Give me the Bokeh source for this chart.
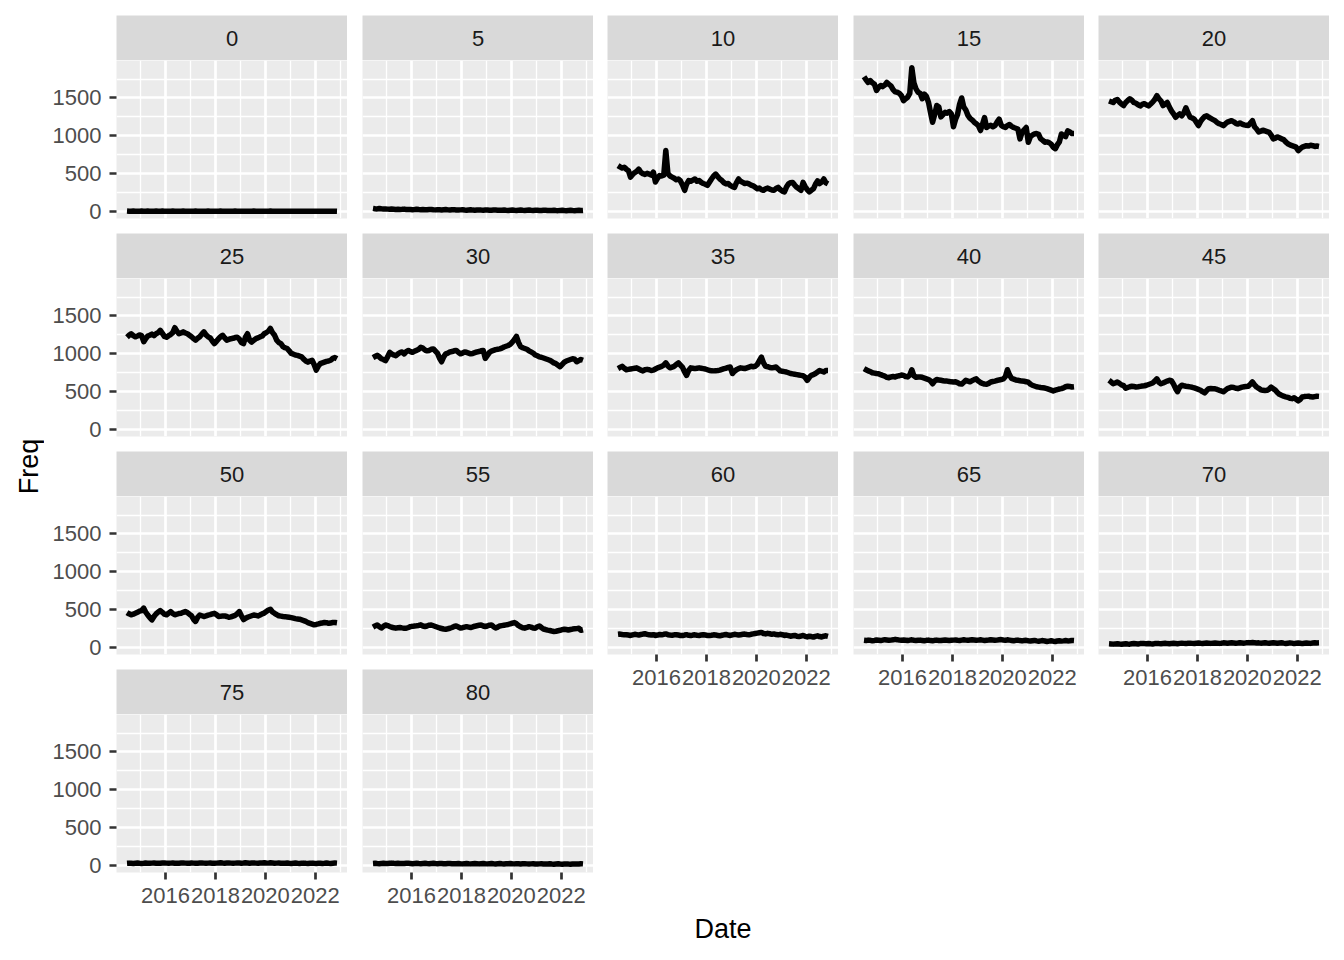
import math
import numpy as np
import pandas as pd
from bokeh.plotting import figure
from bokeh.layouts import row, column
from bokeh.models import Range1d, FixedTicker, DatetimeTickFormatter
from bokeh.core.properties import value
from bokeh.embed import file_html
from bokeh.resources import INLINE

# ---------------- data ----------------
dates = pd.date_range("2014-06-01", periods=102, freq="MS") + pd.Timedelta(days=14)
ages = ["0", "5", "10", "15", "20", "25", "30", "35", "40", "45",
        "50", "55", "60", "65", "70", "75", "80"]

freq_0 = [6,4,5,7,5,3,4,6,5,4, 6,5,3,5,6,4,5,7,5,4, 3,5,6,4,5,3,4,6,5,4,
          5,3,4,6,5,4,3,5,4,6, 5,3,4,5,4,6,5,3,4,5, 3,4,6,5,3,4,5,4,3,5,
          4,6,4,3,5,4,3,5,4,6, 3,4,5,3,4,5,3,4,5,3, 4,3,5,4,3,4,5,3,4,3,
          5,4,3,4,3,5,4,3,4,3, 5,4]
freq_5 = [42,38,35,40,36,33,35,32,30,34, 31,28,30,27,29,32,28,26,28,25,
          27,30,26,24,27,25,23,26,28,24, 22,25,23,21,24,26,22,20,23,25,
          21,19,22,24,20,18,21,23,19,17, 20,22,19,17,19,21,18,16,19,21,
          18,16,18,20,17,15,18,20,17,15, 17,19,16,14,17,19,16,14,16,18,
          15,13,16,18,15,13,15,17,14,12, 15,17,14,12,14,16,13,12,14,16, 13,15]
freq_10 = [607,590,575,585,560,540,455,490,515,530, 560,520,500,490,505,495,480,520,390,440,
           475,470,480,805,500,470,455,440,420,430, 405,350,280,360,410,400,415,430,400,410,
           385,370,360,345,390,430,470,495,460,430, 410,380,365,370,345,330,320,380,430,400,
           385,370,375,365,350,340,320,300,310,290, 280,300,310,295,285,280,305,320,290,270,
           260,320,365,380,385,350,320,300,280,385, 330,290,260,280,300,360,405,370,390,430, 380,365]
freq_15 = [1780,1740,1705,1730,1700,1680,1600,1640,1665,1650, 1670,1705,1680,1660,1610,1580,1575,1560,1530,1465,
           1490,1510,1560,1900,1700,1620,1575,1560,1490,1550, 1520,1440,1300,1180,1280,1400,1380,1250,1280,1310,
           1300,1320,1290,1120,1220,1280,1420,1500,1380,1340, 1270,1230,1210,1180,1160,1135,1070,1150,1240,1110,
           1130,1140,1120,1135,1180,1220,1140,1120,1110,1135, 1150,1125,1110,1100,1090,960,1045,1080,1110,915,
           990,1010,1025,1030,1020,960,940,915,920,910, 890,850,830,880,920,1025,1005,990,1065,1050, 1030,1030]
freq_20 = [1460,1450,1440,1470,1480,1445,1420,1400,1440,1465, 1490,1470,1440,1430,1410,1395,1415,1425,1410,1395,
           1420,1445,1480,1530,1490,1460,1400,1420,1440,1380, 1330,1290,1245,1270,1290,1265,1300,1370,1300,1245,
           1235,1220,1180,1135,1190,1225,1255,1265,1245,1230, 1215,1200,1175,1160,1150,1135,1160,1180,1190,1200,
           1185,1165,1155,1170,1155,1145,1140,1135,1170,1200, 1120,1090,1050,1060,1075,1065,1055,1045,1010,960,
           970,985,975,960,950,920,895,880,870,860, 850,805,830,850,860,870,865,875,870,860, 865,860]
freq_25 = [1220,1245,1265,1240,1225,1235,1250,1240,1160,1200, 1235,1245,1260,1240,1265,1280,1310,1270,1230,1220,
           1240,1255,1280,1345,1300,1265,1275,1290,1275,1265, 1245,1225,1200,1180,1205,1225,1260,1290,1250,1225,
           1210,1170,1135,1165,1200,1225,1245,1210,1180,1190, 1200,1205,1215,1220,1195,1150,1135,1220,1265,1180,
           1155,1180,1200,1210,1225,1235,1265,1280,1300,1335, 1280,1245,1180,1150,1135,1095,1080,1070,1040,1005,
           995,985,980,970,960,930,905,890,905,915, 860,785,840,870,880,890,900,905,915,940, 950,935]
freq_30 = [950,965,980,960,935,925,910,960,1020,1000, 985,975,1000,1015,1025,1000,1030,1045,1030,1020,
           1035,1045,1060,1085,1075,1050,1040,1045,1060,1065, 1035,1005,940,895,960,1000,1010,1025,1030,1040,
           1045,1020,1000,1010,1025,1020,1010,1000,1005,1015, 1025,1030,1040,1045,940,980,1020,1035,1045,1055,
           1060,1065,1075,1090,1100,1110,1125,1155,1190,1230, 1150,1095,1080,1070,1060,1040,1025,1010,985,975,
           960,955,945,935,925,915,900,880,870,850, 830,860,890,905,915,925,935,930,895,910, 925,915]
freq_35 = [805,820,835,810,790,795,800,805,810,815, 800,785,775,790,795,790,780,785,800,815,
           825,835,850,880,840,815,825,835,860,880, 850,820,760,715,780,815,810,805,810,815,
           810,805,800,790,780,778,775,778,780,785, 795,805,810,820,825,740,770,790,805,815,
           810,805,815,825,835,830,835,860,910,955, 880,835,830,820,815,820,825,800,775,770,
           765,760,750,740,735,730,725,720,715,710, 690,650,690,715,725,740,760,780,770,760, 780,780]
freq_40 = [805,790,775,765,750,745,740,738,725,715, 705,690,685,695,700,695,705,710,720,715,
           700,695,720,790,710,690,695,695,690,680, 670,660,640,605,640,660,655,650,645,640,
           640,635,630,628,630,620,605,600,625,650, 640,630,645,660,670,640,620,610,600,598,
           610,628,635,640,648,655,660,668,700,790, 720,675,665,655,650,645,640,638,632,625,
           600,585,575,565,560,555,552,548,540,530, 520,510,520,528,535,540,550,565,572,568, 562,565]
freq_45 = [650,630,605,615,628,610,590,580,545,555, 565,572,568,562,565,570,575,578,585,595,
           605,615,640,670,625,605,615,628,640,650, 645,600,540,500,560,585,578,572,568,563,
           558,550,540,530,518,500,485,515,540,542, 540,538,530,518,510,498,520,540,550,560,
           555,545,540,550,560,565,570,572,600,628, 590,562,545,525,518,515,518,535,560,540,
           520,490,465,452,440,432,425,412,408,420, 400,378,400,430,435,438,440,432,430,435, 440,438]
freq_50 = [462,445,432,440,452,465,480,488,520,470, 430,395,365,410,445,470,488,465,440,432,
           455,475,450,432,440,450,453,465,475,462, 440,420,370,345,400,430,420,410,418,428,
           435,445,452,435,410,412,418,418,410,400, 405,415,425,445,475,420,370,385,400,410,
           420,430,425,418,430,445,455,475,495,505, 470,452,435,420,415,410,408,404,400,395,
           388,382,378,374,365,356,345,330,320,310, 300,305,312,320,325,330,328,320,325,330, 332,328]
freq_55 = [270,285,298,275,258,280,298,290,278,268, 262,256,262,265,260,256,255,265,276,280,
           285,288,292,300,285,278,285,295,298,288, 278,268,258,252,245,242,248,255,265,278,
           286,272,258,262,270,276,270,264,272,282, 288,294,298,285,278,285,295,298,275,258,
           270,285,290,295,300,305,312,322,330,315, 290,275,262,256,265,276,270,258,256,275,
           285,265,245,238,230,225,218,212,215,222, 228,236,242,238,232,238,244,247,250,255, 228,235]
freq_60 = [175,178,172,168,170,165,160,168,175,170, 165,172,178,182,175,168,165,170,160,165,
           172,168,175,180,170,165,162,168,170,165, 160,158,165,170,162,158,165,168,162,160,
           165,170,165,160,158,162,168,165,160,155, 162,168,172,165,160,168,175,170,165,170,
           175,178,172,168,175,180,185,190,195,200, 185,180,188,182,175,180,172,168,175,170,
           160,165,158,150,155,160,150,145,152,160, 148,140,150,145,138,148,155,145,140,150, 155,148]
freq_65 = [95,92,98,95,90,94,100,96,92,98, 104,100,95,98,102,108,104,98,95,100,
           96,92,98,102,96,92,95,98,94,90, 95,98,92,90,95,98,94,92,96,100,
           96,92,95,98,100,96,94,98,102,98, 95,100,104,100,96,98,102,98,94,97,
           100,104,100,96,98,102,105,100,96,102, 98,94,90,95,98,92,88,92,95,90,
           86,90,94,88,84,88,92,86,80,85, 90,84,80,86,90,85,88,92,88,90, 94,92]
freq_70 = [50,48,45,48,50,46,44,48,50,47, 45,49,52,50,48,52,55,52,50,53,
           50,48,52,55,52,50,53,56,52,50, 54,57,54,51,55,58,55,52,56,58,
           55,53,56,59,56,54,57,60,58,55, 58,61,58,55,58,62,59,56,60,63,
           60,57,60,64,61,58,62,65,62,66, 63,60,62,58,61,64,60,57,61,64,
           60,56,60,63,58,54,58,62,58,52, 56,60,56,52,57,61,58,55,60,64, 61,62]
freq_75 = [30,32,30,28,31,33,30,28,30,33, 31,29,32,34,31,29,30,33,35,32,
           30,32,34,31,29,31,33,35,32,30, 31,34,32,29,31,33,35,32,30,32,
           34,31,29,32,34,36,33,31,33,35, 32,30,32,35,33,31,33,36,34,31,
           33,35,32,30,33,35,37,34,32,36, 33,30,32,34,31,29,31,33,30,28,
           31,33,30,28,30,32,29,27,30,32, 29,27,29,31,28,30,33,30,28,31, 34,32]
freq_80 = [28,30,27,25,28,31,28,26,29,32, 29,27,30,28,26,28,31,29,27,25,
           28,30,27,25,27,29,26,24,27,29, 26,24,26,28,25,23,26,28,25,23,
           25,27,24,22,25,27,24,22,24,26, 24,22,25,27,24,22,24,26,23,21,
           24,26,23,21,23,25,27,24,22,25, 23,21,23,25,22,20,22,24,21,19,
           22,24,21,19,21,23,20,18,21,23, 20,18,20,22,19,17,20,22,19,21, 24,22]

series = [freq_0, freq_5, freq_10, freq_15, freq_20, freq_25, freq_30, freq_35, freq_40,
          freq_45, freq_50, freq_55, freq_60, freq_65, freq_70, freq_75, freq_80]
for s in series:
    assert len(s) == len(dates), len(s)

x_years_major = [2016, 2018, 2020, 2022]
x_years_minor = [2015, 2017, 2019, 2021, 2023]
y_major = [0, 500, 1000, 1500]
y_minor = [250, 750, 1250, 1750]

# ---------------- scales (ggplot-like 5% expansion) ----------------
x_ms = dates.values.astype("datetime64[ms]").astype("int64").astype(float)
xpad = 0.05 * (x_ms.max() - x_ms.min())
XLO, XHI = x_ms.min() - xpad, x_ms.max() + xpad
allv = np.concatenate([np.asarray(s, dtype=float) for s in series])
ypad = 0.05 * (allv.max() - allv.min())
YLO, YHI = allv.min() - ypad, allv.max() + ypad


def ms(y):
    return float(pd.Timestamp(f"{y}-01-01").value // 10**6)


FONT = "Liberation Sans"
PANEL_W, PANEL_H, STRIP_H, GAP_V = 231, 158, 45, 15
COL_LEFT = [72, 15, 14, 15, 14]
NCOL = 5
TOP_PAD = 15
AXIS_BOTTOM = 40


def strip_fig(label, left, top):
    p = figure(frame_width=PANEL_W, frame_height=STRIP_H,
               x_range=Range1d(0, 1), y_range=Range1d(0, 1),
               x_axis_location=None, y_axis_location=None,
               output_backend="svg", toolbar_location=None,
               min_border_left=left, min_border_right=0,
               min_border_top=top, min_border_bottom=0)
    p.background_fill_color = "#D9D9D9"
    p.border_fill_color = "white"
    p.outline_line_color = None
    p.grid.visible = False
    p.text(x=[0.5], y=[0.5], text=[label], text_align="center",
           text_baseline="middle", text_font=value(FONT),
           text_font_size="22px", text_color="#1A1A1A")
    return p


def panel_fig(vals, left, bottom, show_x, show_y):
    p = figure(frame_width=PANEL_W, frame_height=PANEL_H,
               x_axis_type="datetime",
               x_range=Range1d(XLO, XHI), y_range=Range1d(YLO, YHI),
               x_axis_location="below" if show_x else None,
               y_axis_location="left" if show_y else None,
               output_backend="svg", toolbar_location=None,
               min_border_left=left, min_border_right=0,
               min_border_top=0, min_border_bottom=bottom)
    p.background_fill_color = "#EBEBEB"
    p.border_fill_color = "white"
    p.outline_line_color = None
    xt = FixedTicker(ticks=[ms(y) for y in x_years_major],
                     minor_ticks=[ms(y) for y in x_years_minor])
    yt = FixedTicker(ticks=y_major, minor_ticks=y_minor)
    p.xgrid.ticker = xt
    p.ygrid.ticker = yt
    for g in p.grid:
        g.grid_line_color = "white"
        g.grid_line_width = 2.7
        g.minor_grid_line_color = "white"
        g.minor_grid_line_width = 1.35
    for ax in (p.xaxis if show_x else []):
        ax.ticker = xt
        ax.formatter = DatetimeTickFormatter(years="%Y", months="%Y", days="%Y",
                                             hours="%Y", minutes="%Y")
        ax.major_label_standoff = 8
    for ax in (p.yaxis if show_y else []):
        ax.ticker = yt
        ax.major_label_standoff = 8
    for ax in list(p.xaxis if show_x else []) + list(p.yaxis if show_y else []):
        ax.axis_line_color = None
        ax.major_tick_line_color = "#333333"
        ax.major_tick_line_width = 2.7
        ax.major_tick_in = 0
        ax.major_tick_out = 7
        ax.minor_tick_line_color = None
        ax.major_label_text_font = FONT
        ax.major_label_text_font_size = "22px"
        ax.major_label_text_color = "#4D4D4D"
    p.line(x=x_ms, y=vals, line_width=5.5, line_color="black",
           line_join="round", line_cap="butt")
    return p


n = len(ages)
cols = []
for c in range(NCOL):
    idxs = [i for i in range(n) if i % NCOL == c]
    items = []
    for k, i in enumerate(idxs):
        r = i // NCOL
        last = (k == len(idxs) - 1)
        items.append(strip_fig(ages[i], COL_LEFT[c], TOP_PAD if r == 0 else 0))
        items.append(panel_fig(series[i], COL_LEFT[c],
                               AXIS_BOTTOM if last else GAP_V,
                               show_x=last, show_y=(c == 0)))
    cols.append(column(*items, spacing=0))

grid_h = TOP_PAD + 4 * (STRIP_H + PANEL_H) + 3 * GAP_V + AXIS_BOTTOM
FREQ_W = 44
freq_fig = figure(width=FREQ_W, height=grid_h, x_range=Range1d(0, 1), y_range=Range1d(0, 1),
                  x_axis_location=None, y_axis_location=None, min_border=0,
                  output_backend="svg", toolbar_location=None)
freq_fig.outline_line_color = None
freq_fig.grid.visible = False
freq_fig.text(x=[28 / FREQ_W], y=[1 - 466 / grid_h], text=["Freq"], angle=math.pi / 2,
              text_align="center", text_baseline="middle", text_font=value(FONT),
              text_font_size="27px", text_color="black")

total_w = FREQ_W + sum(COL_LEFT) + NCOL * PANEL_W
DATE_H = 44
date_fig = figure(width=total_w, height=DATE_H, x_range=Range1d(0, 1), y_range=Range1d(0, 1),
                  x_axis_location=None, y_axis_location=None, min_border=0,
                  output_backend="svg", toolbar_location=None)
date_fig.outline_line_color = None
date_fig.grid.visible = False
date_fig.text(x=[722.5 / total_w], y=[1 - (928 - grid_h) / DATE_H], text=["Date"],
              text_align="center", text_baseline="middle", text_font=value(FONT),
              text_font_size="27px", text_color="black")

layout = column(row(freq_fig, *cols, spacing=0), date_fig, spacing=0)

with open("out.html", "w") as f:
    f.write(file_html(layout, INLINE))
